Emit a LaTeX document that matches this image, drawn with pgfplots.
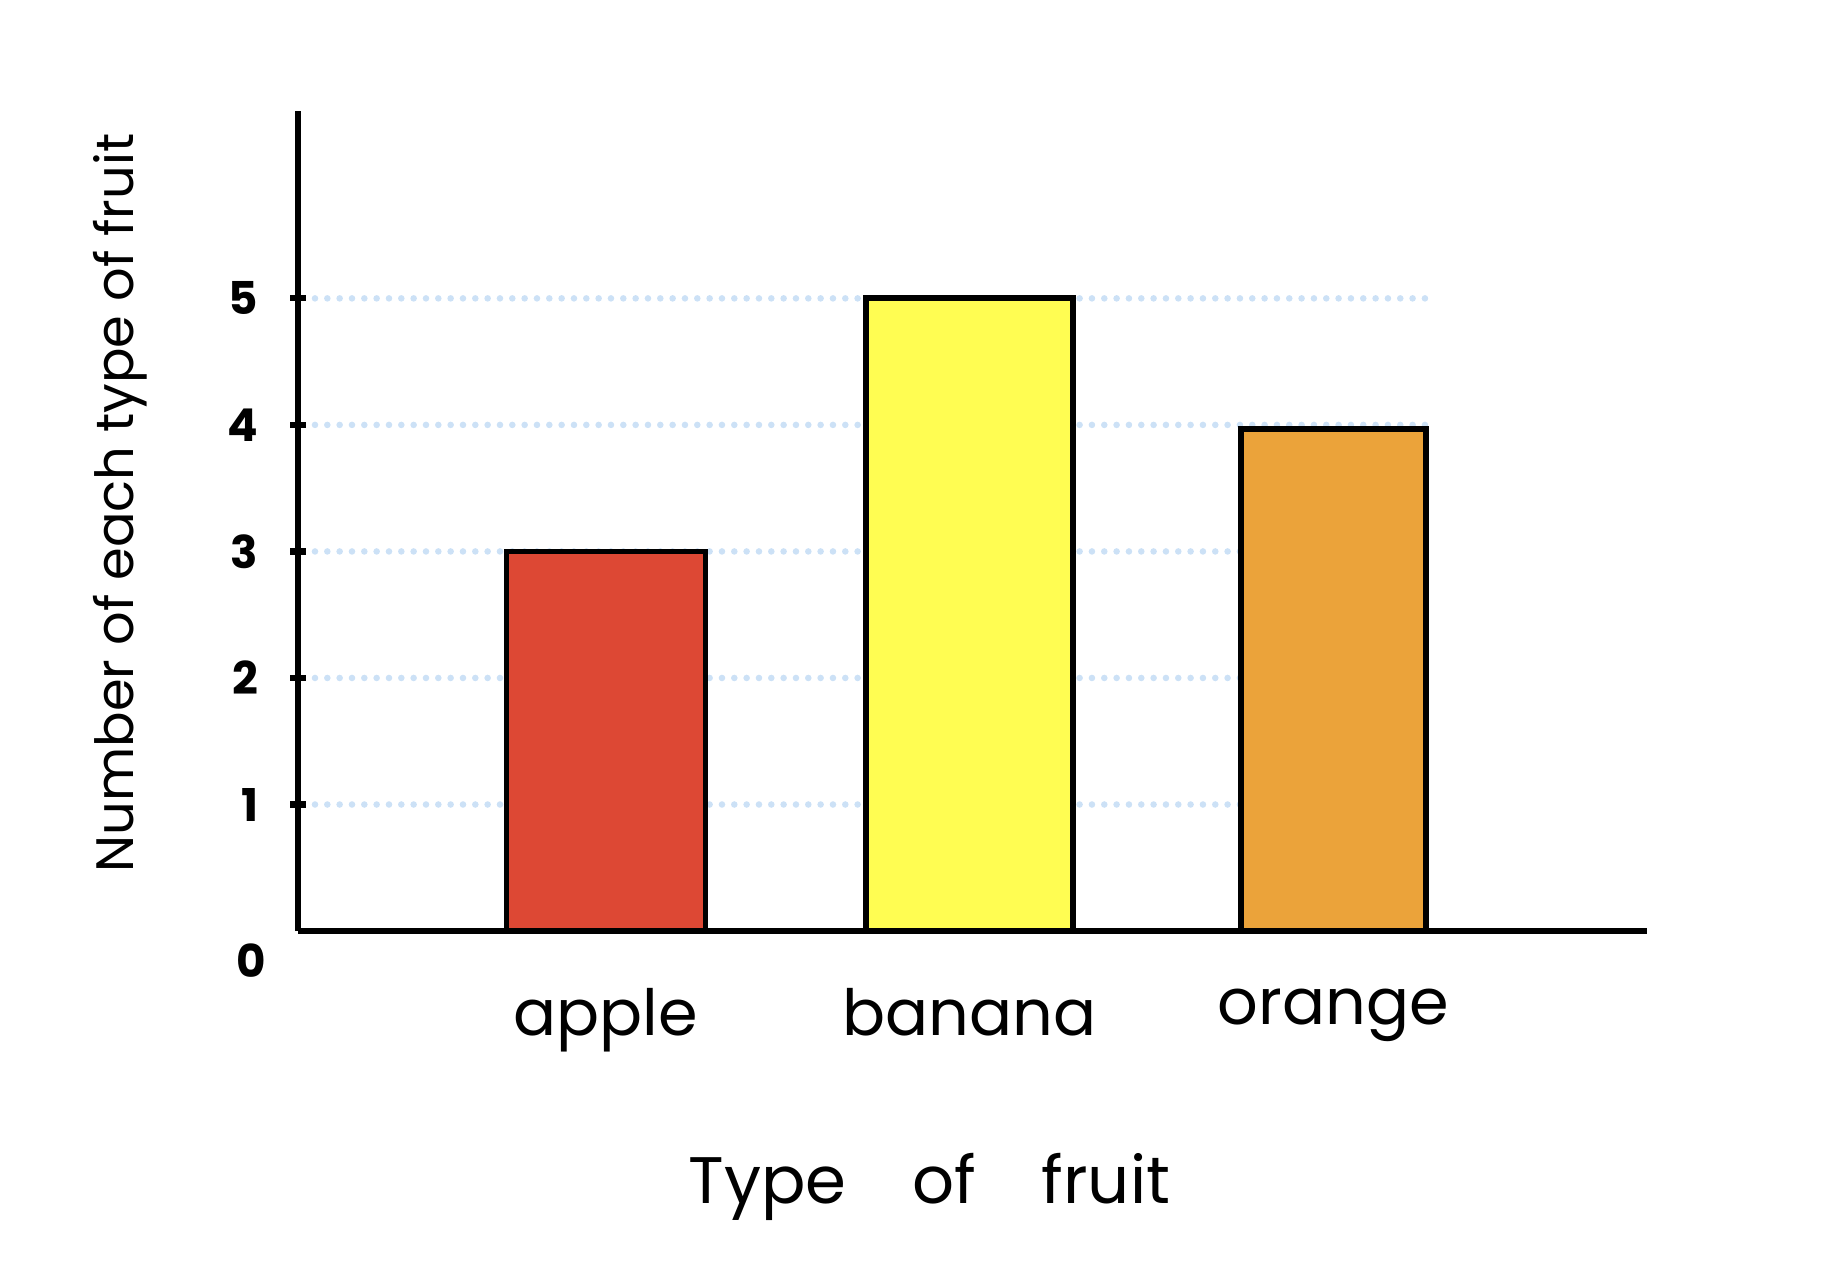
\documentclass[border=0pt]{standalone}
\usepackage{pgfplots}
\pgfplotsset{compat=1.18}
\usepackage{fontspec}
\setmainfont{Poppins}

\definecolor{applered}{RGB}{221,72,52}
\definecolor{bananayellow}{RGB}{255,253,82}
\definecolor{orangebar}{RGB}{235,163,58}
\definecolor{gridblue}{RGB}{204,225,246}

\begin{document}
\begin{tikzpicture}
\path[use as bounding box] (0,0) rectangle (15.68cm,10.94cm);
\begin{axis}[
  at={(2.55cm,2.98cm)}, anchor=south west,
  width=11.53cm, height=7.01cm, scale only axis,
  axis x line*=bottom, axis y line*=left,
  axis line style={line width=1.5pt},
  ybar,
  xmin=-0.846, xmax=2.862,
  ymin=0, ymax=6.48,
  xtick={0,1,2},
  xticklabels={apple,banana,orange},
  xtick style={draw=none},
  xticklabel style={font=\fontsize{15.5}{18}\selectfont, yshift=-0.3cm},
  ytick={1,2,3,4,5},
  ytick style={line width=1.5pt, black},
  major tick length=0.14cm,
  tick align=center,
  /pgf/number format/assume math mode=true,
  yticklabel style={font=\fontsize{11}{13}\selectfont\bfseries, xshift=-0.15cm},
  extra y ticks={0},
  extra y tick style={major tick length=0pt, yticklabel style={yshift=-0.25cm, xshift=0.0cm}},
  xlabel={Type\enspace\enspace of\enspace\enspace fruit},
  xlabel style={at={(axis description cs:0.468,-0.312)}, anchor=center, font=\fontsize{16}{19}\selectfont},
  ylabel={Number of each type of fruit},
  ylabel style={at={(axis description cs:-0.132,0.522)}, anchor=center, font=\fontsize{12.8}{15}\selectfont},
]
% dotted grid lines behind the bars
\pgfplotsinvokeforeach{1,2,3,4,5}{
  \addplot[sharp plot, forget plot, gridblue, line width=1.6pt, line cap=round,
    dash pattern=on 0pt off 3pt] coordinates {(-0.80,#1) (2.27,#1)};
}
\addplot[fill=applered, draw=black, line width=1.4pt, bar width=0.547, bar shift=0pt]
  coordinates {(0,3)};
\addplot[fill=bananayellow, draw=black, line width=1.4pt, bar width=0.57, bar shift=0pt]
  coordinates {(1,5)};
\addplot[fill=orangebar, draw=black, line width=1.4pt, bar width=0.51, bar shift=0pt]
  coordinates {(2,3.97)};
\end{axis}
\end{tikzpicture}
\end{document}
